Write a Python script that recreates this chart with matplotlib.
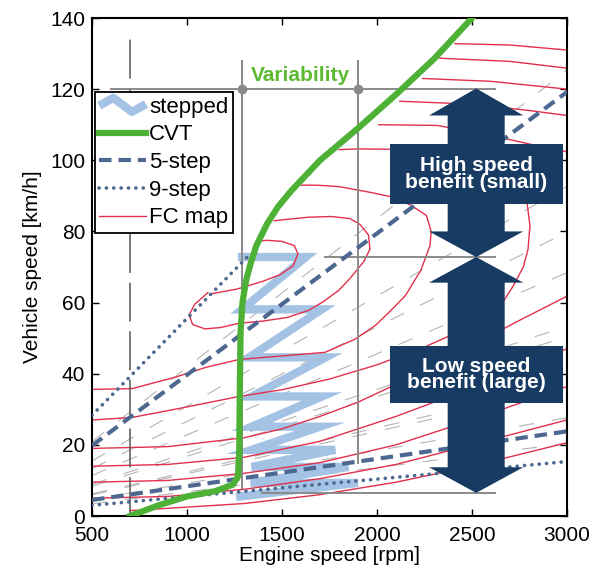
import numpy as np
import matplotlib
matplotlib.use("Agg")
import matplotlib.pyplot as plt
from matplotlib.lines import Line2D
from matplotlib.patches import Polygon, Rectangle
from matplotlib.legend_handler import HandlerBase

plt.rcParams['font.family'] = ['Liberation Sans', 'DejaVu Sans']
plt.rcParams['lines.scale_dashes'] = False

# ---------------- data ----------------
x_ticks = [500, 1000, 1500, 2000, 2500, 3000]
y_ticks = [0, 20, 40, 60, 80, 100, 120, 140]

# CVT operating line
cvt_rpm = [700, 850, 1000, 1150, 1240, 1268, 1275, 1278, 1282, 1292, 1310, 1335, 1365, 1420, 1480, 1550, 1700, 1900, 2100, 2300, 2500]
cvt_v = [0, 3, 5.5, 7, 8.8, 11, 18, 35, 52, 60, 66, 71, 76, 82, 87, 91.5, 100, 109, 118.5, 128.5, 140]

# stepped (zig-zag) operating line
stepped_rpm = [1280, 1900, 1335, 1850, 1340, 1780, 1340, 1700, 1340, 1710, 1340, 1730, 1327, 1710, 1290, 1625, 1290]
stepped_v = [5.5, 9.3, 9.3, 13.8, 13.8, 18.6, 18.6, 25.1, 25.1, 33.6, 33.6, 44.6, 44.6, 58.1, 58.1, 72.8, 72.8]

# 5-step gear lines (highest and lowest gear)
five_hi_rpm = [500, 3000]
five_hi_v = [19.8, 119.2]
five_lo_rpm = [500, 3000]
five_lo_v = [4.5, 23.8]

# 9-step gear lines (highest and lowest gear)
nine_hi_rpm = [500, 1330]
nine_hi_v = [28.3, 73.5]
nine_lo_rpm = [500, 3000]
nine_lo_v = [3.0, 15.3]

# intermediate gear lines (thin grey dashed), vehicle speed at 500 and 3000 rpm
gear_v500 = [3.4, 4.6, 5.95, 6.2, 8.4, 8.9, 11.4, 13.3, 15.45, 20.9]
gear_v3000 = [20.4, 27.6, 35.7, 37.2, 50.4, 53.4, 68.4, 79.8, 92.7, 125.4]

# fuel consumption map iso-lines
fc_lines = [
    ([1121, 1263, 1400, 1489, 1558, 1584, 1565, 1500, 1421, 1380],
     [62.4, 63.8, 66, 67.8, 70.3, 73.7, 76, 77.2, 77.5, 77.3]),
    ([1110, 1040, 1011, 1030, 1095, 1180, 1274, 1400, 1526, 1640, 1716, 1800, 1858, 1930, 1963, 1955, 1910, 1858, 1760, 1640, 1526, 1460],
     [62.8, 59.5, 56.5, 53.8, 52.6, 53, 54.2, 54.8, 55.8, 57.8, 60.2, 63.5, 66.8, 71.5, 75, 79, 82, 83.6, 84.2, 84, 83.4, 83]),
    ([500, 710, 937, 1100, 1274, 1500, 1726, 1884, 1990, 2068, 2150, 2230, 2279, 2285, 2260, 2174, 2070, 1963, 1800, 1684, 1600],
     [35.6, 35.8, 39, 41.8, 44, 45, 46, 49.7, 53.5, 57.5, 62, 69, 76, 80, 84.5, 87.5, 89.8, 91, 92.6, 93, 93]),
    ([500, 710, 937, 1274, 1500, 1750, 2000, 2250, 2480, 2632, 2716, 2770, 2795, 2805, 2790, 2750, 2660, 2500, 2250, 1905, 1800],
     [27, 27.7, 30, 33.6, 35.5, 38.5, 42.5, 47.5, 53, 57.5, 64.6, 70, 75, 81.6, 88, 95, 100, 102.3, 103, 103.2, 103]),
    ([500, 900, 1300, 1500, 1700, 1900, 2100, 2300, 2500, 2750, 3000],
     [19, 19.5, 22, 24.5, 28, 32, 37, 42.5, 48, 55, 61.8]),
    ([500, 900, 1300, 1700, 2100, 2500, 3000], [14, 14.5, 16.5, 21, 28, 36, 47]),
    ([500, 900, 1300, 1700, 2100, 2500, 3000], [9.5, 10, 12, 15, 20, 27, 36.4]),
    ([500, 900, 1300, 1700, 2100, 2500, 3000], [5, 5.5, 7.5, 10.5, 14.5, 20, 27]),
    ([700, 1300, 1700, 2100, 2500, 3000], [1.5, 3.5, 6, 9.5, 14, 20.6]),
    ([2010, 2316, 2600, 2850, 3000], [110, 109.8, 107, 104, 102.4]),
    ([2120, 2500, 2800, 3000], [116.6, 115.8, 114, 112.6]),
    ([2240, 2600, 3000], [123, 122.2, 120]),
    ([2330, 2700, 3000], [128.7, 127.8, 125.9]),
    ([2410, 2700, 3000], [132.8, 132.4, 131]),
]

# ---------------- styles ----------------
C_STEP = '#a4c2e4'
C_CVT = '#4cb135'
C_GEAR = '#4d6890'
C_FC = '#e2304c'
C_GREY = '#b4b4b4'
C_NAVY = '#173b62'

fig = plt.figure(figsize=(5.95, 5.83), dpi=100)
ax = fig.add_axes([92 / 595, 1 - 516 / 583, 475 / 595, 498 / 583])
ax.set_xlim(500, 3000)
ax.set_ylim(0, 140)

# intermediate gears
for v0, v1 in zip(gear_v500, gear_v3000):
    ax.plot([500, 3000], [v0, v1], color=C_GREY, lw=0.8, dashes=(11, 13), zorder=1)

# FC map
for i, (xs, ys) in enumerate(fc_lines):
    ax.plot(xs, ys, color=C_FC, lw=1.0, zorder=2, label='FC map' if i == 0 else None)

# reference lines
ax.plot([700, 700], [0, 135], color='#555555', lw=1.1, dashes=(28, 7), zorder=2.2)
ax.plot([600, 2620], [120, 120], color='#8a8a8a', lw=1.4, zorder=2.2)
ax.plot([1725, 2620], [72.8, 72.8], color='#8a8a8a', lw=1.4, zorder=2.2)
ax.plot([1395, 2620], [6.5, 6.5], color='#8a8a8a', lw=1.4, zorder=2.2)
ax.plot([1290, 1290], [8, 128], color='#8a8a8a', lw=1.4, zorder=2.2)
ax.plot([1900, 1900], [15, 128], color='#8a8a8a', lw=1.4, zorder=2.2)
ax.plot([1290, 1900], [120, 120], 'o', color='#8a8a8a', ms=6, zorder=2.3)
ax.text(1595, 121.3, 'Variability', color='#5cba30', fontsize=15, fontweight='bold',
        ha='center', va='bottom', zorder=3)

# stepped
step_line, = ax.plot(stepped_rpm, stepped_v, color=C_STEP, lw=6, solid_joinstyle='miter',
                     zorder=1.5, label='stepped')

# gear lines
ax.plot(five_hi_rpm, five_hi_v, color=C_GEAR, lw=3, dashes=(9, 5), zorder=3, label='5-step')
ax.plot(five_lo_rpm, five_lo_v, color=C_GEAR, lw=3, dashes=(9, 5), zorder=3)
ax.plot(nine_hi_rpm, nine_hi_v, color=C_GEAR, lw=2.6, dashes=(0.1, 5.2), dash_capstyle='round',
        zorder=3, label='9-step')
ax.plot(nine_lo_rpm, nine_lo_v, color=C_GEAR, lw=2.6, dashes=(0.1, 5.2), dash_capstyle='round', zorder=3)

# CVT
ax.plot(cvt_rpm, cvt_v, color=C_CVT, lw=4.5, zorder=4, label='CVT')

# arrows
def double_arrow(c, sw, hw, yb, yt, hl_top, hl_bot):
    pts = [(c, yt), (c + hw, yt - hl_top), (c + sw, yt - hl_top), (c + sw, yb + hl_bot),
           (c + hw, yb + hl_bot), (c, yb), (c - hw, yb + hl_bot), (c - sw, yb + hl_bot),
           (c - sw, yt - hl_top), (c - hw, yt - hl_top)]
    ax.add_patch(Polygon(pts, closed=True, facecolor=C_NAVY, edgecolor='none', zorder=5))

double_arrow(2522, 150, 248, 72.8, 120.2, 7.6, 7.2)
double_arrow(2522, 150, 248, 6.5, 72.8, 7.2, 7.2)
ax.add_patch(Rectangle((2068, 87.8), 911, 16.9, facecolor=C_NAVY, edgecolor='none', zorder=5))
ax.add_patch(Rectangle((2068, 31.9), 911, 15.8, facecolor=C_NAVY, edgecolor='none', zorder=5))
ax.text(2523, 96.2, 'High speed\nbenefit (small)', color='white', fontsize=15, fontweight='bold',
        ha='center', va='center', linespacing=0.85, zorder=6)
ax.text(2523, 39.8, 'Low speed\nbenefit (large)', color='white', fontsize=15, fontweight='bold',
        ha='center', va='center', linespacing=0.85, zorder=6)

# axes styling
ax.set_xticks(x_ticks)
ax.set_yticks(y_ticks)
ax.tick_params(direction='in', top=True, right=True, length=5, width=1, labelsize=15)
ax.tick_params(axis='x', pad=7)
ax.tick_params(axis='y', pad=5)
for s in ax.spines.values():
    s.set_linewidth(1.5)
ax.set_xlabel('Engine speed [rpm]', fontsize=15, labelpad=1)
ax.set_ylabel('Vehicle speed [km/h]', fontsize=15, labelpad=6)


class ZigzagHandler(HandlerBase):
    def create_artists(self, legend, orig_handle, xdescent, ydescent, width, height, fontsize, trans):
        xs = np.array([0.0, 0.3, 0.7, 1.0]) * width - xdescent
        ys = np.array([0.45, 0.95, 0.05, 0.55]) * height - ydescent
        ln = Line2D(xs, ys, color=orig_handle.get_color(), lw=orig_handle.get_linewidth(),
                    solid_joinstyle='round', solid_capstyle='butt', transform=trans)
        return [ln]


handles, labels = ax.get_legend_handles_labels()
order = ['stepped', 'CVT', '5-step', '9-step', 'FC map']
hmap = dict(zip(labels, handles))
leg = ax.legend([hmap[k] for k in order], order, loc='upper left', bbox_to_anchor=(0.006, 0.851),
                borderaxespad=0, fontsize=16, handlelength=2.1, handletextpad=0.15,
                labelspacing=0.3, borderpad=0.2, fancybox=False, framealpha=1,
                edgecolor='black', handler_map={step_line: ZigzagHandler()})
leg.get_frame().set_linewidth(1.3)
leg.set_zorder(7)

fig.savefig('out.png', dpi=100)
